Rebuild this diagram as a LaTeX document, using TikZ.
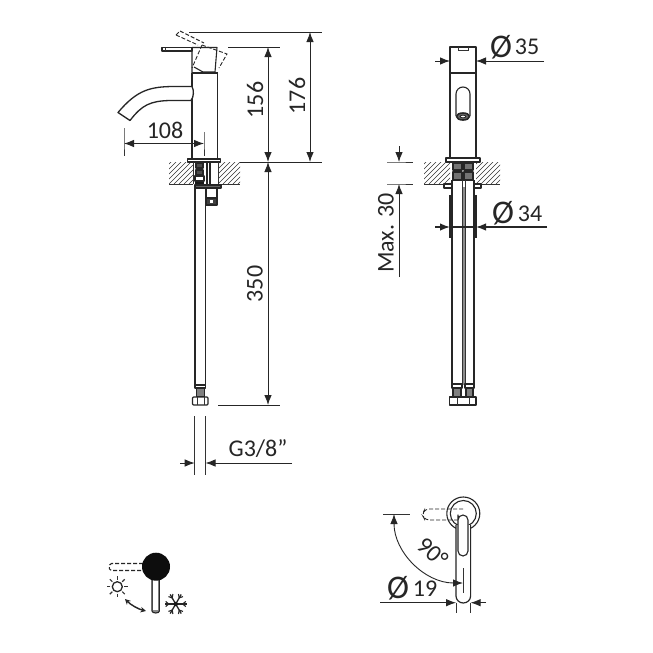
\documentclass[tikz,border=0pt]{standalone}
\usepackage{fontspec}
\setmainfont{Carlito}
\usetikzlibrary{arrows.meta}
\tikzset{
  every picture/.append style={x=1pt, y=-1pt},
  part/.style={draw=black!85, line width=1.1pt, line join=round},
  thin part/.style={draw=black!80, line width=0.8pt},
  ghost/.style={draw=black!85, line width=0.9pt, dash pattern=on 4pt off 2pt},
  dimline/.style={draw=black!85, line width=0.9pt},
  dimarrow/.style={dimline, {Latex[length=10pt,width=7.5pt]}-{Latex[length=10pt,width=7.5pt]}},
  endarrow/.style={dimline, -{Latex[length=10pt,width=7.5pt]}},
  hatchline/.style={draw=black!80, line width=0.5pt},
  dimtext/.style={font=\fontsize{24}{26}\selectfont, text=black!85, inner sep=0pt},
  bigtext/.style={font=\fontsize{33}{35}\selectfont, text=black!85, inner sep=0pt},
}
% hatched block between two corners
\newcommand{\hatchblock}[4]{%
  \begin{scope}
    \clip (#1,#2) rectangle (#3,#4);
    \foreach \hx in {-30,-25,...,110}
      \draw[hatchline] (#1+\hx,#4) -- (#1+\hx+30,#4-30);
  \end{scope}
}
\begin{document}
\begin{tikzpicture}
  \useasboundingbox[fill=white] (0,0) rectangle (653,653);

  % side view
  \hatchblock{169}{162}{193}{184}
  \hatchblock{218}{162}{240}{184}
  \draw[thin part] (169,184) -- (193,184) (218,184) -- (240,184);
  \draw[part, line width=1.3pt] (192,158) -- (192,73);
  \draw[part, line width=1.3pt] (217.5,158) -- (217.5,73);
  \draw[part, line width=1.6pt] (192,73) -- (217.5,73);
  \draw[part] (187.5,159) rectangle (220.5,162);
  \draw[part, fill=white] (162,47.5) rectangle (192,51);
  \draw[thin part] (165,47.5) -- (165,51);
  \draw[part] (192,51) -- (192,73) (192,47.5) -- (217,47.5) -- (215,72) -- (203,72) -- (194,67);
  \draw[ghost] (176,35) -- (198,45) (180,31) -- (204,43) (176,35) -- (180,31);
  \draw[ghost] (202,45) -- (192,68) (202,45) -- (227,54) -- (219,68);
  % spout
  \draw[part, line width=1.3pt, fill=white] (192,86.5)
    .. controls (191,86.5) and (186,86.5) .. (175,86.5)
    .. controls (150,86.5) and (137,90) .. (118,112.5) -- (130,120.5)
    .. controls (142,105) and (150,101) .. (170,100.5)
    -- (191,100.5) .. controls (194,97) and (194,90) .. (192,86.5);
  % under the deck
  \foreach \py in {163,170}
    \draw[part, fill=black!70] (196,\py) rectangle (203,\py+5);
  \fill[black!90] (195,181) rectangle (204,184);
  \draw[thin part] (193,162) -- (193,184) (218,162) -- (218,184);
  \draw[part] (195,176) rectangle (204,181);
  \draw[part] (207,162) -- (207,184) (210,162) -- (210,184);
  \draw[part, fill=black!60] (195,185) rectangle (221,188);
  \draw[part, line width=1.3pt] (195,188) -- (195,385) (205.5,188) -- (205.5,385);
  \draw[part] (206,188) rectangle (217,198);
  \draw[part, fill=black!75] (206,198) rectangle (217,205);
  \fill[white] (210,200) rectangle (213,203);
  % side view fitting
  \draw[part, fill=white] (195,385) rectangle (205.5,388);
  \draw[part, fill=black!50] (196.5,388) rectangle (204.5,397);
  \draw[part, fill=white, rounded corners=1pt] (192.5,397) rectangle (208,405);
  \draw[thin part] (197,397) -- (197,405) (204,397) -- (204,405);

  % dimensions of the side view
  \coordinate (topA) at (189,32);
  \coordinate (topB) at (322,32);
  \coordinate (handA) at (228,47);
  \coordinate (handB) at (280,47);
  \coordinate (deckA) at (240,162);
  \coordinate (deckB) at (322,162);
  \coordinate (hoseA) at (218,405);
  \coordinate (hoseB) at (280,405);
  \coordinate (d176a) at (310,32);
  \coordinate (d176b) at (310,162);
  \coordinate (d156a) at (268,47);
  \coordinate (d156b) at (268,162);
  \coordinate (d350b) at (268,405);
  \draw[dimline] (topA) -- (topB);
  \draw[dimline] (handA) -- (handB);
  \draw[dimline] (deckA) -- (deckB);
  \draw[dimline] (hoseA) -- (hoseB);
  \draw[dimarrow] (d176a) -- (d176b);
  \draw[dimarrow] (d156a) -- (d156b);
  \draw[dimarrow] (d156b) -- (d350b);
  \node[dimtext, rotate=90] (lab176) at (297,96) {176};
  \node[dimtext, rotate=90] (lab156) at (255,100) {156};
  \node[dimtext, rotate=90] (lab350) at (255,284) {350};

  \coordinate (d108a) at (124,143.5);
  \coordinate (d108b) at (204,143.5);
  \draw[thin part] (124,128) -- (d108a) -- (124,156);
  \draw[thin part] (204,132) -- (d108b) -- (204,156);
  \draw[dimarrow] (d108a) -- (d108b);
  \node[dimtext] (lab108) at (165,130) {108};

  \coordinate (gLeft) at (194.7,463);
  \coordinate (gRight) at (205.5,463);
  \coordinate (gTail) at (180,463);
  \coordinate (gEnd) at (292,463);
  \draw[thin part] (194.7,416) -- (gLeft) -- (194.7,475);
  \draw[thin part] (205.5,416) -- (gRight) -- (205.5,475);
  \draw[endarrow] (gTail) -- (gLeft);
  \draw[endarrow] (gEnd) -- (gRight);
  \node[dimtext] (labG) at (258,449) {G3/8"};

  % front view
  \hatchblock{424}{162}{450}{184}
  \hatchblock{476}{162}{500}{184}
  \draw[thin part] (424,184) -- (450,184) (476,184) -- (500,184);
  \draw[part, line width=1.3pt] (450,158) -- (450,47) -- (476,47) -- (476,158);
  \draw[part, line width=1.6pt] (450,73) -- (476,73);
  \draw[thin part] (458,47) -- (458,50) -- (468,50) -- (468,47);
  \draw[part, fill=white] (456,116) -- (456,94) arc[start angle=180, end angle=360, radius=7] -- (470,116);
  \draw[part, line width=1.6pt, fill=black!60] (463,116.5) ellipse[x radius=6.5, y radius=3.5];
  \draw[part, fill=white, line width=0.8pt] (463,116.5) ellipse[x radius=3, y radius=1.3];
  \draw[part] (446,158) rectangle (480,162);
  \foreach \px in {453,464} {
    \draw[part, fill=black!55] (\px,163) rectangle (\px+9,170);
    \draw[part, fill=black!55] (\px,172) rectangle (\px+9,180);
  }
  \draw[part, fill=white] (444,184) rectangle (452,188);
  \draw[part, fill=white] (474,184) rectangle (481,188);
  \draw[part] (452,180) -- (474,180);
  \fill[black!45] (462,187) rectangle (465,385);
  \draw[part, line width=1.2pt] (452,180) -- (452,385) (474,180) -- (474,385);
  \draw[thin part] (462,180) -- (462,385) (465,180) -- (465,385);
  \draw[part, line width=1.6pt] (450,195) -- (450,238) (476,195) -- (476,238);
  % front view fittings
  \draw[part, fill=white] (452,384) rectangle (462,388) (465,384) rectangle (474,388);
  \draw[part, fill=black!50] (453,388) rectangle (461,397) (466,388) rectangle (473,397);
  \draw[part, fill=white] (449.5,397) rectangle (476,405);
  \draw[thin part] (457,397) -- (457,405) (469,397) -- (469,405);

  % dimensions of the front view
  \coordinate (p35l) at (450,61);
  \coordinate (p35r) at (476,61);
  \coordinate (p35a) at (435,61);
  \coordinate (p35b) at (544,61);
  \draw[endarrow] (p35a) -- (p35l);
  \draw[endarrow] (p35b) -- (p35r);
  \node[bigtext] (dia35) at (501,47) {Ø};
  \node[dimtext] (lab35) at (527,47) {35};

  \coordinate (p34l) at (450,227);
  \coordinate (p34r) at (476,227);
  \coordinate (p34a) at (435,227);
  \coordinate (p34b) at (547,227);
  \draw[endarrow, line width=1.4pt] (p34a) -- (p34l);
  \draw[endarrow, line width=1.4pt] (p34b) -- (p34r);
  \draw[dimline, line width=1.4pt] (p34l) -- (p34r);
  \node[bigtext] (dia34) at (503,213) {Ø};
  \node[dimtext] (lab34) at (530,214) {34};

  \coordinate (m30a) at (399,146);
  \coordinate (m30b) at (399,162);
  \coordinate (m30c) at (399,184);
  \coordinate (m30d) at (399,277);
  \draw[thin part] (387,162) -- (m30b) -- (413,162);
  \draw[thin part] (387,184) -- (m30c) -- (413,184);
  \draw[endarrow] (m30a) -- (m30b);
  \draw[endarrow] (m30d) -- (m30c);
  \node[dimtext, rotate=90] (labMax) at (386,233) {Max. 30};

  % top view
  \draw[part] (463.3,513.5) circle[radius=16.5];
  \draw[part] (463.3,513.5) circle[radius=13];
  \draw[ghost, rounded corners=4pt] (463,509) -- (425,509) -- (422,514.5) -- (425,520) -- (460,520);
  \draw[part, line width=1.2pt, fill=white] (456,525) -- (456,596)
    arc[start angle=180, end angle=0, x radius=7.3, y radius=7] -- (470.6,525);
  \draw[part, fill=white, rounded corners=5pt] (458,520) -- (458,556) -- (468,556) -- (468,515) -- (458,515) -- cycle;
  \draw[thin part] (463,568) -- (463,593);

  \coordinate (ang) at (394,514);
  \draw[thin part] (383,514) -- (410,514);
  \draw[dimarrow] (ang) arc[start angle=180, end angle=90, radius=69];
  \node[dimtext, rotate=-42] (lab90) at (433,552) {90°};

  \coordinate (p19l) at (456,602.7);
  \coordinate (p19r) at (470.6,602.7);
  \coordinate (p19a) at (380,602.7);
  \coordinate (p19b) at (486,602.7);
  \draw[thin part] (p19l) -- (456,613) (p19r) -- (470.6,613);
  \draw[endarrow] (p19a) -- (p19l);
  \draw[endarrow] (p19b) -- (p19r);
  \node[bigtext] (dia19) at (398,588) {Ø};
  \node[dimtext] (lab19) at (425,589) {19};

  % operation symbol
  \draw[ghost, line width=1.1pt, rounded corners=1.5pt] (143,563.5) -- (110,563.5) -- (109,567) -- (110,570.5) -- (143,570.5);
  \draw[part, fill=black!45] (152,580) -- (152,611) arc[start angle=180, end angle=0, x radius=3.7, y radius=2] -- (159.4,580);
  \fill[white] (153.4,580) rectangle (158,610);
  \fill[black!95] (156,566.7) circle[radius=14];
  \draw[part, line width=1.3pt] (117.3,586.7) circle[radius=5];
  \foreach \sa in {0,45,...,315}
    \draw[thin part, line width=1.1pt] (117.3,586.7) ++(\sa:7) -- ++(\sa:3.5);
  \coordinate (turnA) at (125,599);
  \coordinate (turnB) at (146,611);
  \draw[line width=1.4pt, black!85, {Stealth[length=5.5pt,width=5.5pt]}-{Stealth[length=5.5pt,width=5.5pt]}] (turnA) .. controls (131,605) and (138,609) .. (turnB);
  \foreach \sa in {0,60,...,300} {
    \draw[line width=1.3pt, black!85] (175.7,604) -- ++(\sa:11);
    \draw[line width=1.1pt, black!85] (175.7,604) ++(\sa:7) -- ++(\sa+40:4);
    \draw[line width=1.1pt, black!85] (175.7,604) ++(\sa:7) -- ++(\sa-40:4);
  }
  \fill[black!90] (175.7,604) circle[radius=2.2];
\end{tikzpicture}
\end{document}
